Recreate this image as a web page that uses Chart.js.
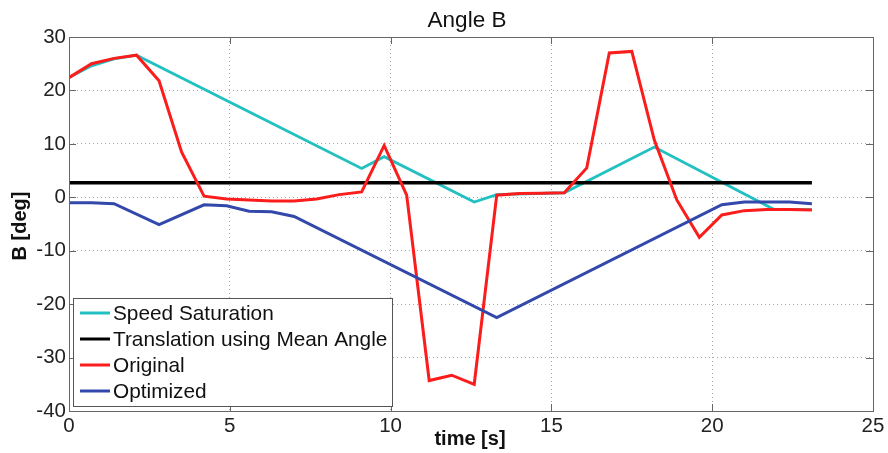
<!DOCTYPE html>
<html>
<head>
<meta charset="utf-8">
<script src="https://cdn.jsdelivr.net/npm/chart.js@4.4.1/dist/chart.umd.min.js"></script>
<style>
  html, body { margin: 0; padding: 0; background: #fff; }
  #chart { display: block; }
</style>
</head>
<body>
<canvas id="chart" width="888" height="453"></canvas>
<script>
// Angle B vs time

const speedSatTime = [0, 0.7, 1.4, 2.1, 9.1, 9.8, 12.6, 13.3, 15.4, 18.2, 21.9, 23.1];
const speedSatAngle = [22.4, 24.6, 25.9, 26.6, 5.4, 7.6, -0.9, 0.5, 0.85, 9.4, -2.2, -2.3];

const meanAngleTime = [0, 23.1];
const meanAngleValue = [2.7, 2.7];

const originalTime = [0, 0.7, 1.4, 2.1, 2.8, 3.5, 4.2, 4.9, 5.6, 6.3, 7.0, 7.7, 8.4, 9.1, 9.8, 10.5, 11.2,
  11.9, 12.6, 13.3, 14.0, 14.7, 15.4, 16.1, 16.8, 17.5, 18.2, 18.9, 19.6, 20.3, 21.0, 21.7, 22.4, 23.1];
const originalAngle = [22.4, 25.0, 26.0, 26.6, 21.8, 8.5, 0.2, -0.3, -0.5, -0.7, -0.7, -0.3, 0.5, 1.0, 9.7, 0.4, -34.3,
  -33.3, -35.0, 0.4, 0.7, 0.75, 0.85, 5.5, 27.0, 27.3, 10.7, -0.5, -7.5, -3.3, -2.5, -2.3, -2.3, -2.4];

const optimizedTime = [0, 0.7, 1.4, 2.8, 4.2, 4.9, 5.6, 6.3, 7.0, 13.3, 20.3, 21.0, 22.4, 23.1];
const optimizedAngle = [-1.0, -1.0, -1.2, -5.1, -1.4, -1.6, -2.6, -2.7, -3.6, -22.5, -1.4, -0.9, -0.9, -1.2];

const seriesLabels = ['Speed Saturation', 'Translation using Mean Angle', 'Original', 'Optimized'];
const xTicks = [0, 5, 10, 15, 20, 25];
const yTicks = [-40, -30, -20, -10, 0, 10, 20, 30];

const FONT = "'Liberation Sans', Arial, Helvetica, sans-serif";
const colors = ['#22c0c2', '#000000', '#fb1c1c', '#3248aa'];

function toPoints(ts, vs) {
  return ts.map((t, i) => ({ x: t, y: vs[i] }));
}

// box, inward ticks, title, axis labels and the MATLAB-style legend
const figureDecor = {
  id: 'figureDecor',
  afterDatasetsDraw(chart) {
    const { ctx, chartArea: a, scales: { x, y } } = chart;
    ctx.save();
    ctx.strokeStyle = '#666';
    ctx.lineWidth = 1;
    ctx.beginPath();
    xTicks.forEach(v => {
      const px = Math.round(x.getPixelForValue(v)) + 0.5;
      ctx.moveTo(px, a.bottom); ctx.lineTo(px, a.bottom - 7);
      ctx.moveTo(px, a.top); ctx.lineTo(px, a.top + 7);
    });
    yTicks.forEach(v => {
      const py = Math.round(y.getPixelForValue(v)) + 0.5;
      ctx.moveTo(a.left, py); ctx.lineTo(a.left + 7, py);
      ctx.moveTo(a.right, py); ctx.lineTo(a.right - 7, py);
    });
    ctx.stroke();
    ctx.strokeRect(Math.round(a.left) + 0.5, Math.round(a.top) + 0.5,
      Math.round(a.right - a.left), Math.round(a.bottom - a.top));
    ctx.restore();
  },
  afterDraw(chart) {
    const { ctx } = chart;
    ctx.save();
    ctx.fillStyle = '#111';

    // title
    ctx.font = '22.5px ' + FONT;
    ctx.textAlign = 'center';
    ctx.textBaseline = 'alphabetic';
    ctx.fillText('Angle B', 467, 27);

    // axis labels
    ctx.font = 'bold 20px ' + FONT;
    ctx.fillText('time [s]', 470, 445);
    ctx.save();
    ctx.translate(26, 226);
    ctx.rotate(-Math.PI / 2);
    ctx.fillText('B [deg]', 0, 0);
    ctx.restore();

    // legend
    const box = { left: 73, top: 298, right: 392, bottom: 406 };
    ctx.fillStyle = '#fff';
    ctx.fillRect(box.left, box.top, box.right - box.left, box.bottom - box.top);
    ctx.strokeStyle = '#555';
    ctx.lineWidth = 1;
    ctx.strokeRect(box.left + 0.5, box.top + 0.5, box.right - box.left, box.bottom - box.top);

    ctx.font = '20.8px ' + FONT;
    ctx.textAlign = 'left';
    ctx.textBaseline = 'middle';
    chart.data.datasets.forEach((ds, i) => {
      const rowY = 313 + i * 26;
      ctx.strokeStyle = ds.borderColor;
      ctx.lineWidth = 3;
      ctx.beginPath();
      ctx.moveTo(80, rowY);
      ctx.lineTo(110, rowY);
      ctx.stroke();
      ctx.fillStyle = '#111';
      ctx.fillText(ds.label, 113, rowY + 1);
    });
    ctx.restore();
  }
};

const ctx = document.getElementById('chart').getContext('2d');

new Chart(ctx, {
  type: 'line',
  data: {
    datasets: [
      { label: seriesLabels[0], data: toPoints(speedSatTime, speedSatAngle), borderColor: colors[0], borderWidth: 2.8, order: 4 },
      { label: seriesLabels[1], data: toPoints(meanAngleTime, meanAngleValue), borderColor: colors[1], borderWidth: 3.5, order: 3 },
      { label: seriesLabels[2], data: toPoints(originalTime, originalAngle), borderColor: colors[2], borderWidth: 3, order: 2 },
      { label: seriesLabels[3], data: toPoints(optimizedTime, optimizedAngle), borderColor: colors[3], borderWidth: 3, order: 1 }
    ].map(ds => Object.assign(ds, { pointRadius: 0, tension: 0, fill: false }))
  },
  options: {
    responsive: false,
    animation: false,
    layout: { padding: { top: 37, right: 15, left: 0, bottom: 0 } },
    plugins: {
      legend: { display: false },
      title: { display: false },
      tooltip: { enabled: false }
    },
    scales: {
      x: {
        type: 'linear',
        min: xTicks[0],
        max: xTicks[xTicks.length - 1],
        ticks: { stepSize: xTicks[1] - xTicks[0], padding: 3, color: '#222', font: { family: FONT, size: 20.5 }, maxRotation: 0 },
        grid: { color: '#a8a8a8', lineWidth: 1, drawTicks: false },
        border: { display: false, dash: [1, 3] },
        afterFit: s => { s.height = 42; }
      },
      y: {
        type: 'linear',
        min: yTicks[0],
        max: yTicks[yTicks.length - 1],
        ticks: { stepSize: yTicks[1] - yTicks[0], padding: 3, color: '#222', font: { family: FONT, size: 20.5 } },
        grid: { color: '#a8a8a8', lineWidth: 1, drawTicks: false },
        border: { display: false, dash: [1, 3] },
        afterFit: s => { s.width = 69; }
      }
    }
  },
  plugins: [figureDecor]
});
</script>
</body>
</html>
